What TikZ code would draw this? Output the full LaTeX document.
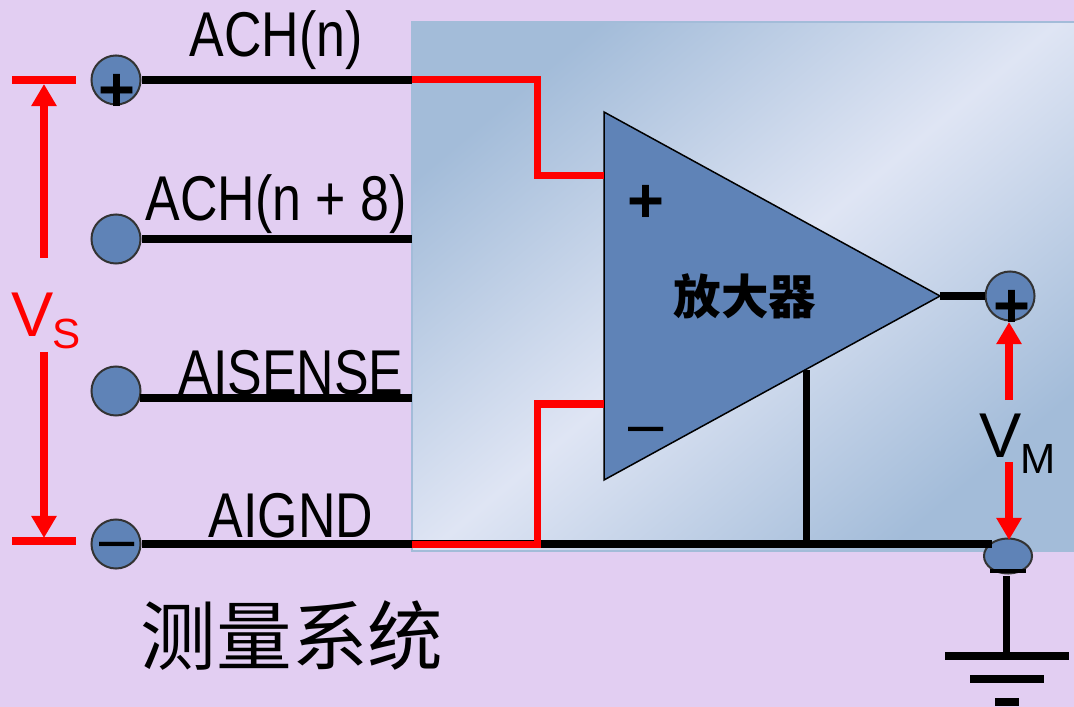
\documentclass[tikz,border=0pt]{standalone}
\usepackage{fontspec}
\setmainfont{Liberation Sans}
\newfontfamily\narrowfont[FakeStretch=0.82]{Liberation Sans}
\newfontfamily\cjk{Noto Sans CJK SC}
\usetikzlibrary{arrows.meta,shapes.geometric}
\definecolor{bgpurple}{HTML}{E2CEF2}
\definecolor{termblue}{HTML}{5F83B7}
\definecolor{boxdark}{HTML}{A3BCD9}
\definecolor{boxlight}{HTML}{DFE5F4}
\tikzset{
  term/.style={circle,draw=black!80,line width=.02cm,fill=termblue,minimum size=.49cm,inner sep=0pt},
  wire/.style={line width=.08cm},
  redwire/.style={line width=.07cm,red,line join=miter},
  volt/.style={line width=.08cm,red,-{Triangle[width=.24cm,length=.22cm]}},
  wirelabel/.style={anchor=base,inner sep=0pt,font=\fontsize{18}{18}\selectfont\narrowfont},
  sign/.style={inner sep=0pt,font=\fontsize{18}{18}\selectfont\bfseries},
  minussign/.style={inner sep=0pt,font=\fontsize{18}{18}\selectfont}
}
\begin{document}
\begin{tikzpicture}[x=.01cm,y=-.01cm]
\useasboundingbox (0,0) rectangle (1074,707);
\fill[bgpurple] (0,0) rectangle (1074,707);
\shade[top color=boxdark,bottom color=boxdark,middle color=boxlight,shading angle=40,draw=boxdark,line width=.02cm] (412,22) rectangle (1076,551);
% terminals
\node[term] (t1) at (116,80) {};
\node[term] (t2) at (116,239) {};
\node[term] (t3) at (116,391) {};
\node[term] (t4) at (116,544) {};
\node[term] (tout) at (1010,296) {};
\node[term,ellipse,minimum width=.48cm,minimum height=.35cm] (tgnd) at (1008,556) {};
% box edge and corner points
\coordinate (e1) at (412,80);
\coordinate (e2) at (412,239);
\coordinate (s3) at (140,398);
\coordinate (e3) at (412,398);
\coordinate (e4) at (412,544);
\coordinate (g1) at (806,544);
\coordinate (g2) at (806,370);
\coordinate (g3) at (992,544);
\coordinate (a1) at (604,176);
\coordinate (a2) at (604,404);
\coordinate (ampout) at (940,296);
% amplifier
\fill[termblue,draw=black,line width=.015cm] (604,112) -- (604,480) -- (ampout) -- cycle;
\node[inner sep=0pt] (amptext) at (745,296) {\cjk\bfseries\fontsize{13.5}{13.5}\selectfont 放大器};
% wires
\draw[wire] (t1) -- (e1);
\draw[wire] (t2) -- (e2);
\draw[wire] (s3) -- (e3);
\draw[wire] (t4) -- (e4) -- (g3);
\draw[wire,line width=.07cm] (g1) -- (g2);
\draw[wire,line width=.07cm] (ampout) -- (tout);
\draw[redwire] (e1) -- (537,80) -- (537,176) -- (a1);
\draw[redwire] (e4) -- (537,544) -- (537,404) -- (a2);
% signs
\node[sign] (p1) at (117,93) {+};
\node[sign] (p2) at (1012,309) {+};
\node[sign] (p3) at (646,204) {+};
\node[minussign] (m1) at (117,551) {–};
\node[minussign] (m2) at (646,436) {–};
% ground
\coordinate (g4) at (1006,576);
\coordinate (g5) at (1006,656);
\draw[wire,line width=.07cm] (g4) -- (g5);
\draw[wire,line width=.04cm] (990,571) -- (1026,571);
\draw[wire] (945,656) -- (1069,656);
\draw[wire] (970,679) -- (1044,679);
\draw[wire] (995,702) -- (1019,702);
% wire names
\node[wirelabel] (n1) at (276,57) {ACH(n)};
\node[wirelabel] (n2) at (276,221) {ACH(n + 8)};
\node[wirelabel] (n3) at (291,394) {AISENSE};
\node[wirelabel] (n4) at (291,537) {AIGND};
\node[inner sep=0pt,font=\cjk\fontsize{21.5}{21.5}\selectfont] (sys) at (292,636) {测量系统};
% Vs
\draw[red,line width=.08cm] (12,80) -- (76,80);
\draw[red,line width=.08cm] (12,541) -- (76,541);
\coordinate (vs1) at (44,258);
\coordinate (vs2) at (44,84);
\coordinate (vs3) at (44,352);
\coordinate (vs4) at (44,538);
\draw[volt] (vs1) -- (vs2);
\draw[volt] (vs3) -- (vs4);
\node[anchor=base west,inner sep=0pt,text=red,font=\fontsize{18}{18}\selectfont] (vs) at (11,337) {V};
\node[anchor=base west,inner sep=0pt,text=red,font=\fontsize{12}{12}\selectfont] (vss) at (52,349) {S};
% Vm
\coordinate (vm1) at (1009,400);
\coordinate (vm2) at (1009,322);
\coordinate (vm3) at (1009,462);
\coordinate (vm4) at (1009,540);
\draw[volt] (vm1) -- (vm2);
\draw[volt] (vm3) -- (vm4);
\node[anchor=base west,inner sep=0pt,font=\fontsize{18}{18}\selectfont] (vm) at (979,457) {V};
\node[anchor=base west,inner sep=0pt,font=\fontsize{12}{12}\selectfont] (vms) at (1020,473) {M};
\end{tikzpicture}
\end{document}
